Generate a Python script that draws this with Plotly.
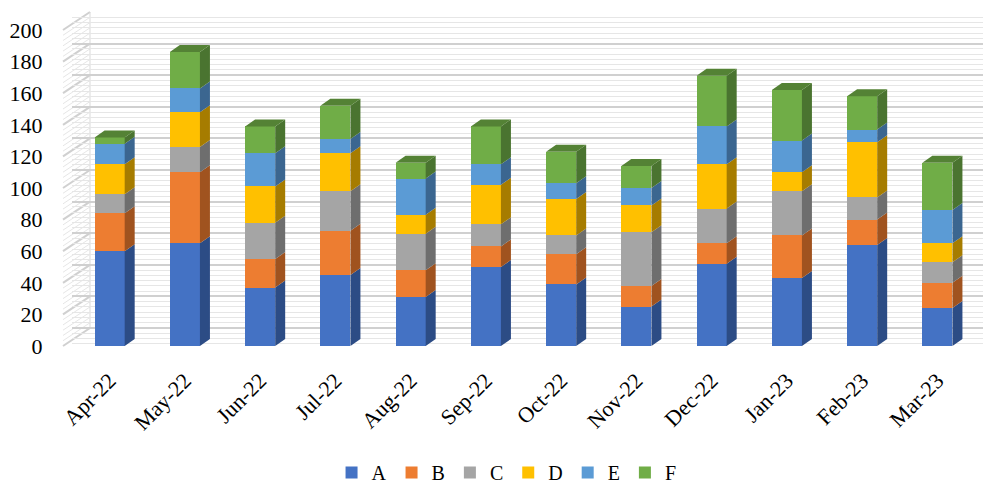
import plotly.graph_objects as go

months = ["Apr-22", "May-22", "Jun-22", "Jul-22", "Aug-22", "Sep-22",
          "Oct-22", "Nov-22", "Dec-22", "Jan-23", "Feb-23", "Mar-23"]
A = [60, 65, 37, 45, 31, 50, 39, 25, 52, 43, 64, 24]
B = [24, 45, 18, 28, 17, 13, 19, 13, 13, 27, 16, 16]
C = [12, 16, 23, 25, 23, 14, 12, 34, 22, 28, 14, 13]
D = [19, 22, 23, 24, 12, 25, 23, 17, 28, 12, 35, 12]
E = [13, 15, 21, 9, 23, 13, 10, 11, 24, 20, 8, 21]
F = [4, 23, 17, 21, 10, 24, 20, 14, 32, 32, 21, 30]
y_ticks = [0, 20, 40, 60, 80, 100, 120, 140, 160, 180, 200]

series = [("A", A), ("B", B), ("C", C), ("D", D), ("E", E), ("F", F)]
front = ["#4472C4", "#ED7D31", "#A5A5A5", "#FFC000", "#5B9BD5", "#70AD47"]
side = ["#2C4C85", "#A0531F", "#6E6E6E", "#A67C00", "#3B6690", "#4A7430"]
top_col = "#548235"

FONT = "Liberation Serif"
W, H = 983, 493
L, R = 72, 983
T, BOT = 12, 346
PX_PER_UNIT = 1.58
ymax = (BOT - T) / PX_PER_UNIT
back_off = 18  # px the back wall is raised
xs = list(range(len(months)))
px_per_cat = 75.25
xmax = -0.5 + (R - L) / px_per_cat
bw = 0.4
dx = 10 / px_per_cat
dy = 7 / PX_PER_UNIT

fig = go.Figure()

# invisible trace to anchor the back-wall grid axis
fig.add_trace(go.Scatter(x=[0], y=[0], yaxis="y2", mode="markers",
                         marker=dict(opacity=0), showlegend=False, hoverinfo="skip"))

base = [0] * len(months)
for (name, vals), fc, sc in zip(series, front, side):
    fig.add_trace(go.Bar(x=xs, y=vals, name=name, width=bw,
                         marker=dict(color=fc, line=dict(width=0))))
    px_, py_ = [], []
    for i, v in enumerate(vals):
        b0 = base[i]
        t0 = b0 + v
        x1 = i + bw / 2
        px_ += [x1, x1 + dx, x1 + dx, x1, x1, None]
        py_ += [b0, b0 + dy, t0 + dy, t0, b0, None]
        base[i] = t0
    fig.add_trace(go.Scatter(x=px_, y=py_, fill="toself", fillcolor=sc, mode="lines",
                             line=dict(width=0, color=sc), showlegend=False, hoverinfo="skip"))

# top faces
tx, ty = [], []
for i, tot in enumerate(base):
    x0, x1 = i - bw / 2, i + bw / 2
    tx += [x0, x0 + dx, x1 + dx, x1, x0, None]
    ty += [tot, tot + dy, tot + dy, tot, tot, None]
fig.add_trace(go.Scatter(x=tx, y=ty, fill="toself", fillcolor=top_col, mode="lines",
                         line=dict(width=0, color=top_col), showlegend=False, hoverinfo="skip"))

# side wall decoration
def pxx(p):
    return (p - L) / (R - L)

def pyy(q):
    return (BOT - q) / (BOT - T)

shapes = [dict(type="rect", xref="paper", yref="paper", x0=pxx(L - 2), x1=pxx(90),
               y0=0, y1=1, fillcolor="white", line=dict(width=0), layer="between")]
minor_vals = [v / 3 for v in range(0, 601, 10)]
for v in minor_vals:
    yf = BOT - v * PX_PER_UNIT
    yb = yf - back_off
    is_major = abs(v - round(v / 20) * 20) < 1e-6
    shapes.append(dict(type="line", xref="paper", yref="paper",
                       x0=pxx(63), x1=pxx(90), y0=pyy(yf), y1=pyy(yb),
                       line=dict(color="#d0d0d0" if is_major else "#e6e6e6",
                                 width=2 if is_major else 1), layer="between"))
shapes.append(dict(type="line", xref="paper", yref="paper", x0=pxx(90), x1=pxx(90),
                   y0=pyy(BOT - back_off), y1=pyy(T), line=dict(color="#d9d9d9", width=1),
                   layer="between"))

fig.update_layout(
    width=W, height=H,
    margin=dict(l=L, r=W - R, t=T, b=H - BOT, autoexpand=False),
    barmode="stack",
    plot_bgcolor="white", paper_bgcolor="white",
    font=dict(family=FONT, size=22, color="black"),
    xaxis=dict(range=[-0.5, xmax], tickvals=xs, ticktext=months, tickangle=-45,
               showgrid=False, zeroline=False, showline=False, automargin=False,
               ticks="outside", ticklen=12, tickcolor="rgba(0,0,0,0)",
               tickfont=dict(family=FONT, size=22, color="black")),
    yaxis=dict(range=[0, ymax], tickvals=y_ticks, showgrid=False, zeroline=False,
               showline=False, ticks="outside", ticklen=24, tickcolor="rgba(0,0,0,0)",
               automargin=False,
               tickfont=dict(family=FONT, size=22, color="black")),
    yaxis2=dict(range=[-back_off / PX_PER_UNIT, 200], overlaying="y", side="right",
                showticklabels=False, tickvals=y_ticks, showgrid=True, automargin=False,
                gridcolor="#d0d0d0", gridwidth=2, zeroline=False, showline=False,
                minor=dict(dtick=20 / 6, tick0=0, showgrid=True, gridcolor="#e6e6e6",
                           gridwidth=1)),
    legend=dict(orientation="h", x=0.477, xanchor="center", y=-(492 - BOT) / (BOT - T),
                yanchor="bottom", font=dict(family=FONT, size=20, color="black"),
                traceorder="normal", itemwidth=30, borderwidth=0),
    shapes=shapes,
    showlegend=True,
)

fig.write_html("out.html")
